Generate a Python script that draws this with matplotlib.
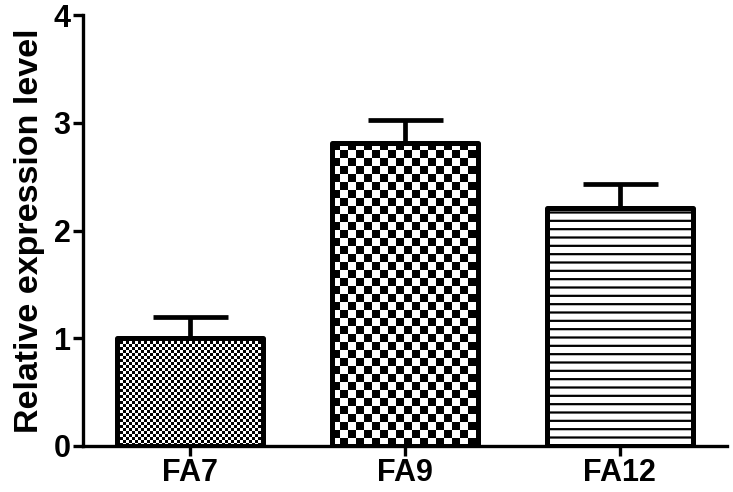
import matplotlib
matplotlib.use("Agg")
import matplotlib.pyplot as plt
import numpy as np

categories = ["FA7", "FA9", "FA12"]
values = [1.0, 2.81, 2.21]
errors = [0.20, 0.22, 0.22]
# checker cell size in pixels (0 means horizontal-line hatch)
checker_px = [3, 8, 0]

plt.rcParams["font.family"] = ["Liberation Sans", "DejaVu Sans"]
plt.rcParams["font.weight"] = "bold"
plt.rcParams["hatch.linewidth"] = 1.6

fig = plt.figure(figsize=(7.33, 4.92), dpi=100)
ax = fig.add_axes([0.1132, 0.0935, 0.8786, 0.876])

x = np.arange(len(categories))
ax.set_xlim(-0.5, 2.5)
ax.set_ylim(0, 4)

ax.errorbar(x, values, yerr=[np.zeros(len(errors)), errors], fmt="none",
            ecolor="black", elinewidth=3.4, capsize=27, capthick=3.4, zorder=1)

bars = ax.bar(x, values, width=0.68, color="white", edgecolor="none", zorder=3)
edges = ax.bar(x, values, width=0.68, color="none", edgecolor="black",
               linewidth=3.6, zorder=5)
for b in edges:
    b.set_joinstyle("round")

fig.canvas.draw()
for b, c in zip(bars, checker_px):
    if c == 0:
        b.set_hatch("--")
        b.set_edgecolor("black")
        b.set_linewidth(0)
        continue
    x0, y0 = b.get_x(), b.get_y()
    x1, y1 = x0 + b.get_width(), y0 + b.get_height()
    (px0, py0), (px1, py1) = ax.transData.transform([(x0, y0), (x1, y1)])
    nx, ny = int(round(px1 - px0)), int(round(py1 - py0))
    jj, ii = np.meshgrid(np.arange(nx), np.arange(ny))
    arr = ((ii // c) + (jj // c)) % 2
    im = ax.imshow(arr, extent=(x0, x1, y0, y1), origin="lower", cmap="gray_r",
                   interpolation="nearest", aspect="auto", zorder=4)
    im.set_clip_path(b)

ax.set_aspect("auto")
ax.set_xlim(-0.5, 2.5)
ax.set_ylim(0, 4)

for s in ["top", "right"]:
    ax.spines[s].set_visible(False)
for s in ["left", "bottom"]:
    ax.spines[s].set_linewidth(2.4)

ax.set_xticks(x)
ax.set_xticklabels(categories, fontsize=22, fontweight="bold")
ax.set_yticks([0, 1, 2, 3, 4])
ax.set_yticklabels(["0", "1", "2", "3", "4"], fontsize=22, fontweight="bold")
ax.tick_params(axis="both", direction="out", length=7, width=2.4, pad=2)
ax.set_ylabel("Relative expression level", fontsize=24.5, fontweight="bold", labelpad=6)

fig.savefig("out.png", dpi=100)
